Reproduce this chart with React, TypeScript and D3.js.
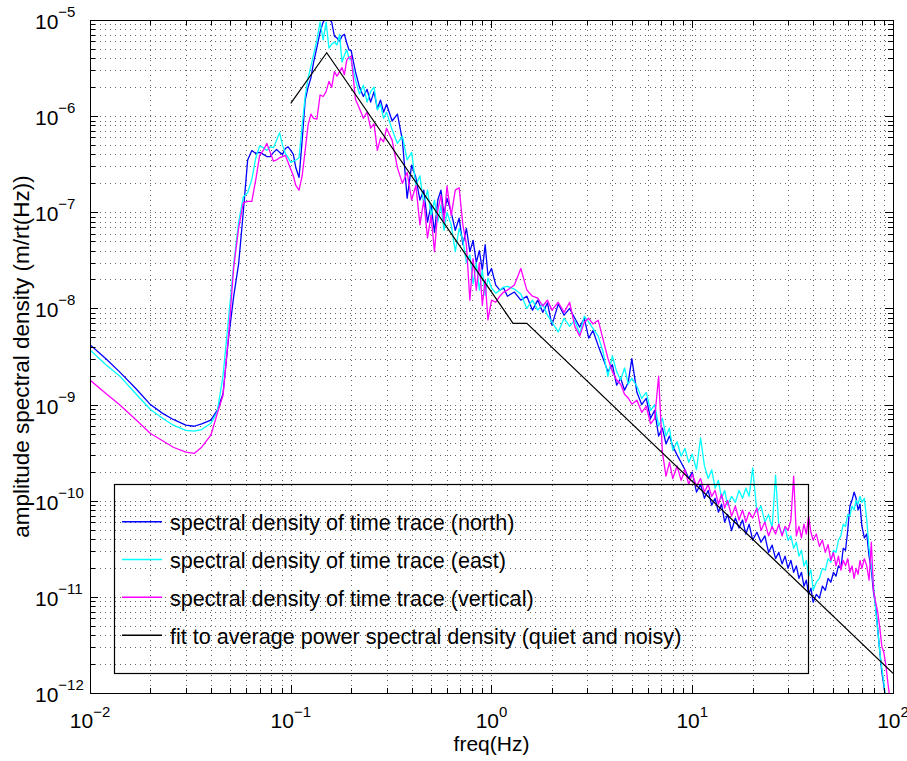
import React from 'react';
import * as d3 from 'd3';

// ---------- data ----------
const freqs = [
  0.01, 0.012, 0.014, 0.017, 0.02, 0.023, 0.026, 0.03, 0.033, 0.036, 0.04, 0.043,
  0.046, 0.049, 0.052, 0.055, 0.058, 0.061, 0.064, 0.067, 0.07, 0.073, 0.076, 0.079, 0.082, 0.085, 0.088, 0.091, 0.094, 0.097, 0.1,
  0.103, 0.106, 0.11, 0.114, 0.118, 0.122, 0.126, 0.13, 0.135, 0.14, 0.145, 0.15, 0.155, 0.16, 0.165, 0.17, 0.175, 0.18, 0.185, 0.19, 0.195, 0.2,
  0.21, 0.22, 0.23, 0.24, 0.25, 0.26, 0.27, 0.28, 0.29, 0.3, 0.32, 0.34, 0.36, 0.38, 0.4, 0.42, 0.44, 0.46, 0.48, 0.5,
  0.52, 0.54, 0.56, 0.58, 0.6, 0.63, 0.66, 0.69, 0.72, 0.75, 0.78, 0.81, 0.84, 0.87, 0.9, 0.93, 0.96, 1.0,
  1.05, 1.1, 1.15, 1.2, 1.3, 1.4, 1.5, 1.6, 1.7, 1.8, 1.9, 2.0, 2.15, 2.3, 2.45, 2.6, 2.75, 2.9, 3.05, 3.2, 3.4, 3.6, 3.8, 4.0, 4.2, 4.4, 4.6, 4.8, 5.0,
  5.3, 5.6, 5.9, 6.2, 6.5, 6.8, 7.1, 7.4, 7.7, 8.0, 8.4, 8.8, 9.2, 9.6, 10,
  10.5, 11, 11.5, 12, 12.5, 13, 13.5, 14, 14.5, 15, 15.7, 16.4, 17.1, 17.8, 18.5, 19.2, 20,
  21, 22, 23, 24, 25, 26, 27, 28, 29, 30, 31, 32, 33, 34, 35, 36, 37, 38, 39, 40,
  41.5, 43, 44.5, 46, 47.5, 49, 50.5, 52, 53.5, 55, 56.5, 58, 59.5, 61, 62.5, 64, 65.5, 67, 68.5, 70,
  72, 74, 76, 78, 80, 82, 84, 86, 88, 90, 92, 94, 96, 98, 100,
];

const north = [
  4.2e-9, 3.0e-9, 2.2e-9, 1.45e-9, 1.0e-9, 8.1e-10, 7.0e-10, 6.1e-10, 5.95e-10, 6.3e-10, 6.9e-10, 8.7e-10,
  1.3e-9, 4.9e-9, 1.35e-8, 2.9e-8, 1.0e-7, 3.5e-7, 4.4e-7, 4.1e-7, 4.2e-7, 4.0e-7, 3.8e-7, 3.8e-7, 4.2e-7, 4.5e-7, 4.2e-7, 4.0e-7, 4.6e-7, 4.8e-7, 4.4e-7,
  4.0e-7, 2.9e-7, 2.3e-7, 5.6e-7, 1.47e-6, 2.0e-6, 2.5e-6, 3.65e-6, 5.2e-6, 7.5e-6, 9.5e-6, 1.05e-5, 1.02e-5, 9.5e-6, 6.8e-6, 6.5e-6, 6.0e-6, 6.8e-6, 7.1e-6, 5.8e-6, 4.9e-6, 4.8e-6,
  2.9e-6, 2.0e-6, 1.6e-6, 1.9e-6, 1.4e-6, 1.8e-6, 1.2e-6, 1.47e-6, 1.1e-6, 1.33e-6, 8.9e-7, 1.05e-6, 5.6e-7, 1.4e-7, 3.1e-7, 2.3e-7, 1.34e-7, 1.7e-7, 7.9e-8, 1.19e-7,
  6.2e-8, 1.34e-7, 1.7e-7, 9.35e-8, 1.4e-7, 1.0e-7, 6.5e-8, 8.7e-8, 4.6e-8, 6.8e-8, 3.9e-8, 5.1e-8, 3.0e-8, 4.0e-8, 2.5e-8, 4.6e-8, 2.2e-8, 2.6e-8,
  1.75e-8, 1.55e-8, 1.63e-8, 1.34e-8, 1.48e-8, 1.22e-8, 1.34e-8, 9.6e-9, 1.22e-8, 9.1e-9, 1.14e-8, 6.7e-9, 1.11e-8, 8.5e-9, 1.0e-8, 7.9e-9, 6.4e-9, 7.9e-9, 4.9e-9, 5.9e-9, 4.1e-9, 3.0e-9, 2.2e-9, 2.6e-9, 1.59e-9, 1.88e-9, 1.41e-9, 1.71e-9, 3.0e-9,
  1.34e-9, 1.0e-9, 1.16e-9, 7.2e-10, 8.7e-10, 4.7e-10, 5.7e-10, 3.9e-10, 4.7e-10, 3.7e-10, 3.0e-10, 2.5e-10, 2.1e-10, 1.7e-10, 1.98e-10,
  1.23e-10, 1.48e-10, 1.06e-10, 1.28e-10, 9.0e-11, 1.06e-10, 7.6e-11, 9.2e-11, 6.0e-11, 7.2e-11, 4.9e-11, 6.6e-11, 5.2e-11, 6.3e-11, 4.5e-11, 5.7e-11, 3.9e-11,
  4.7e-11, 3.7e-11, 4.3e-11, 2.9e-11, 3.45e-11, 2.5e-11, 2.9e-11, 2.2e-11, 2.65e-11, 1.98e-11, 2.4e-11, 1.8e-11, 2.1e-11, 1.56e-11, 1.8e-11, 1.29e-11, 1.49e-11, 1.06e-11, 1.23e-11, 8.8e-12,
  1.06e-11, 9.7e-12, 1.29e-11, 1.17e-11, 1.56e-11, 1.42e-11, 1.8e-11, 1.64e-11, 2.1e-11, 1.98e-11, 3.2e-11, 3.05e-11, 4.9e-11, 8.8e-11, 1.01e-10, 1.23e-10, 1.06e-10, 8.0e-11, 9.2e-11, 5.4e-11,
  4.1e-11, 4.5e-11, 2.65e-11, 1.9e-11, 1.11e-11, 8.0e-12, 4.5e-12, 2.65e-12, 1.64e-12, 1.2e-12, 8.4e-13, 6.6e-13, 5.9e-13, 5.2e-13, 5.2e-13,
];

const east = [
  3.7e-9, 2.6e-9, 2.0e-9, 1.28e-9, 8.9e-10, 7.2e-10, 6.1e-10, 5.4e-10, 5.3e-10, 5.5e-10, 6.4e-10, 8.3e-10,
  2.0e-9, 7.9e-9, 2.9e-8, 7.9e-8, 1.44e-7, 1.6e-7, 2.2e-7, 3.7e-7, 4.9e-7, 4.7e-7, 4.4e-7, 4.8e-7, 4.7e-7, 5.6e-7, 6.7e-7, 5.0e-7, 4.1e-7, 3.7e-7, 3.3e-7,
  3.4e-7, 3.5e-7, 3.7e-7, 8.1e-7, 1.6e-6, 2.5e-6, 3.3e-6, 4.4e-6, 6.2e-6, 9.5e-6, 6.2e-6, 9.5e-6, 5.1e-6, 5.6e-6, 5.9e-6, 5.5e-6, 7.1e-6, 3.65e-6, 4.3e-6, 4.9e-6, 4.0e-6, 3.8e-6,
  2.4e-6, 1.7e-6, 2.1e-6, 1.4e-6, 1.8e-6, 2.0e-6, 1.16e-6, 1.33e-6, 9.5e-7, 1.1e-6, 7.2e-7, 5.2e-7, 6.2e-7, 3.5e-7, 4.2e-7, 1.9e-7, 2.4e-7, 1.19e-7, 1.7e-7, 9.3e-8,
  1.34e-7, 7.9e-8, 1.19e-7, 6.5e-8, 1.0e-7, 7.4e-8, 3.9e-8, 6.8e-8, 5.1e-8, 3.0e-8, 3.6e-8, 1.8e-8, 3.0e-8, 1.55e-8, 2.5e-8, 1.37e-8, 2.07e-8, 1.63e-8,
  1.44e-8, 1.55e-8, 1.67e-8, 1.7e-8, 1.59e-8, 1.41e-8, 1.0e-8, 1.22e-8, 9.6e-9, 1.11e-8, 8.5e-9, 7.2e-9, 5.7e-9, 7.9e-9, 6.5e-9, 7.55e-9, 5.4e-9, 8.3e-9, 7.2e-9, 6.2e-9, 5.15e-9, 3.5e-9, 1.97e-9, 3.2e-9, 2.2e-9, 1.8e-9, 2.4e-9, 1.63e-9, 1.88e-9,
  1.55e-9, 1.16e-9, 1.34e-9, 8.7e-10, 1.0e-9, 6.0e-10, 7.2e-10, 4.7e-10, 5.7e-10, 3.35e-10, 4.1e-10, 2.9e-10, 3.5e-10, 2.5e-10, 3.05e-10,
  2.1e-10, 4.5e-10, 2.3e-10, 1.7e-10, 2.1e-10, 1.35e-10, 1.63e-10, 1.06e-10, 1.28e-10, 9.0e-11, 1.11e-10, 9.6e-11, 1.28e-10, 1.06e-10, 1.35e-10, 1.11e-10, 2.2e-10,
  7.6e-11, 8.8e-11, 6.0e-11, 7.2e-11, 5.2e-11, 1.84e-10, 5.4e-11, 4.5e-11, 5.2e-11, 3.9e-11, 4.3e-11, 3.2e-11, 3.7e-11, 2.65e-11, 3.05e-11, 2.1e-11, 2.4e-11, 1.64e-11, 1.9e-11, 1.17e-11,
  1.42e-11, 1.56e-11, 1.98e-11, 1.9e-11, 2.5e-11, 2.3e-11, 3.05e-11, 2.9e-11, 3.9e-11, 4.3e-11, 5.7e-11, 5.4e-11, 7.2e-11, 6.9e-11, 8.8e-11, 8.0e-11, 1.01e-10, 9.2e-11, 1.11e-10, 9.6e-11,
  1.06e-10, 6.3e-11, 3.2e-11, 2.1e-11, 1.32e-11, 7.25e-12, 4.5e-12, 2.65e-12, 1.8e-12, 1.29e-12, 8.4e-13, 6.3e-13, 5.9e-13, 5.45e-13, 5.2e-13,
];

const vertical = [
  1.8e-9, 1.3e-9, 1.0e-9, 6.9e-10, 5.0e-10, 4.2e-10, 3.6e-10, 3.2e-10, 3.1e-10, 3.6e-10, 4.8e-10, 8.0e-10,
  1.25e-9, 5.3e-9, 2.7e-8, 6.8e-8, 1.25e-7, 1.3e-7, 1.3e-7, 2.2e-7, 3.9e-7, 4.4e-7, 5.2e-7, 4.2e-7, 3.4e-7, 3.5e-7, 3.7e-7, 3.8e-7, 3.9e-7, 3.3e-7, 2.8e-7,
  2.4e-7, 1.9e-7, 1.7e-7, 2.4e-7, 4.4e-7, 8.1e-7, 1.05e-6, 9.5e-7, 9.3e-7, 1.66e-6, 1.6e-6, 1.8e-6, 2.3e-6, 2.0e-6, 2.9e-6, 2.6e-6, 2.9e-6, 3.2e-6, 2.7e-6, 3.8e-6, 4.1e-6, 4.2e-6,
  1.5e-6, 1.2e-6, 9.5e-7, 1.1e-6, 7.5e-7, 8.3e-7, 4.4e-7, 5.9e-7, 5.4e-7, 7.5e-7, 5.6e-7, 2.9e-7, 2.0e-7, 2.6e-7, 1.34e-7, 1.9e-7, 7.4e-8, 1.34e-7, 5.4e-8, 9.3e-8,
  3.9e-8, 1.05e-7, 1.5e-7, 7.9e-8, 1.87e-7, 9.3e-8, 1.7e-7, 1.8e-7, 7.4e-8, 4.6e-8, 1.22e-8, 3.3e-8, 1.55e-8, 3.0e-8, 1.08e-8, 1.97e-8, 7.6e-9, 1.22e-8,
  1.16e-8, 1.34e-8, 1.48e-8, 1.55e-8, 1.75e-8, 2.6e-8, 1.55e-8, 1.34e-8, 1.28e-8, 1.06e-8, 1.22e-8, 9.6e-9, 1.16e-8, 9.1e-9, 1.16e-8, 6.5e-9, 5.15e-9, 7.2e-9, 7.9e-9, 6.9e-9, 7.55e-9, 4.7e-9, 3.04e-9, 2.2e-9, 1.8e-9, 1.63e-9, 1.28e-9, 1.17e-9, 1.01e-9,
  1.11e-9, 8.3e-10, 9.6e-10, 6.3e-10, 7.2e-10, 1.97e-9, 3.2e-10, 1.8e-10, 2.5e-10, 1.7e-10, 2.3e-10, 1.63e-10, 2.1e-10, 1.48e-10, 1.89e-10,
  1.42e-10, 1.7e-10, 1.23e-10, 1.48e-10, 1.11e-10, 1.28e-10, 9.2e-11, 1.17e-10, 8.4e-11, 1.01e-10, 6.9e-11, 8.8e-11, 6.3e-11, 8.0e-11, 6.0e-11, 7.6e-11, 6.6e-11,
  8.4e-11, 4.9e-11, 6.0e-11, 4.3e-11, 5.4e-11, 4.5e-11, 5.7e-11, 4.3e-11, 5.4e-11, 4.9e-11, 6.3e-11, 1.8e-10, 4.3e-11, 5.4e-11, 4.1e-11, 5.7e-11, 4.5e-11, 6.9e-11, 4.7e-11, 3.9e-11,
  4.5e-11, 3.35e-11, 3.9e-11, 2.9e-11, 3.5e-11, 2.4e-11, 2.9e-11, 2.1e-11, 2.65e-11, 1.9e-11, 2.4e-11, 2.1e-11, 2.5e-11, 1.8e-11, 2.1e-11, 1.56e-11, 1.98e-11, 1.72e-11, 2.4e-11, 1.98e-11,
  2.5e-11, 2.1e-11, 1.49e-11, 3.7e-11, 1.17e-11, 8.8e-12, 6.9e-12, 4.7e-12, 3.05e-12, 2.65e-12, 1.99e-12, 1.35e-12, 9.5e-13, 7.45e-13, 6.6e-13,
];

const fitFreqs = [0.1, 0.151, 1.28, 1.5, 100];
const fitValues = [1.36e-6, 4.57e-6, 7.0e-9, 7.0e-9, 1.6e-12];

const xTickExponents = [-2, -1, 0, 1, 2];
const yTickExponents = [-12, -11, -10, -9, -8, -7, -6, -5];
const minorMantissas = [2, 3, 4, 5, 6, 7, 8, 9];

const legendLabels = [
  'spectral density of time trace (north)',
  'spectral density of time trace (east)',
  'spectral density of time trace (vertical)',
  'fit to average power spectral density (quiet and noisy)',
];
const xLabel = 'freq(Hz)';
const yLabel = 'amplitude spectral density (m/rt(Hz))';

// ---------- layout / style ----------
const W = 907;
const H = 761;
const PL = 90, PT = 20, PR = 893, PB = 693;
const COLORS = ['#0000ff', '#00ffff', '#ff00ff', '#000000'];
const FONT = "'Liberation Sans', Arial, Helvetica, sans-serif";
const FS = 21;
const FS_EXP = 15;
const FS_LEG = 21.6;
const FS_YLAB = 22.5;

export default function App() {
  const x = d3.scaleLog().domain([0.01, 100]).range([PL, PR]);
  const y = d3.scaleLog().domain([1e-12, 1e-5]).range([PB, PT]);
  const line = d3
    .line<[number, number]>()
    .x((d) => x(d[0]))
    .y((d) => y(d[1]));

  const series = [north, east, vertical].map((vals) =>
    freqs.map((f, i) => [f, vals[i]] as [number, number])
  );
  const fit = fitFreqs.map((f, i) => [f, fitValues[i]] as [number, number]);

  const xMajor = xTickExponents.map((e) => Math.pow(10, e));
  const yMajor = yTickExponents.map((e) => Math.pow(10, e));
  const xMinor: number[] = [];
  for (let i = 0; i < xTickExponents.length - 1; i++)
    minorMantissas.forEach((m) => xMinor.push(m * Math.pow(10, xTickExponents[i])));
  const yMinor: number[] = [];
  for (let i = 0; i < yTickExponents.length - 1; i++)
    minorMantissas.forEach((m) => yMinor.push(m * Math.pow(10, yTickExponents[i])));

  const r = (v: number) => Math.round(v) + 0.5;
  const MAJ = 8;
  const MIN = 5;

  const gridX = [...xMajor, ...xMinor].filter((v) => x(v) > PL + 1 && x(v) < PR - 1);
  const gridY = [...yMajor, ...yMinor].filter((v) => y(v) > PT + 1 && y(v) < PB - 1);

  const legX0 = 114, legY0 = 484, legX1 = 808, legY1 = 673;
  const legRowY = [521.7, 559.5, 597.3, 635.2];

  return (
    <div style={{ position: 'absolute', left: 0, top: 0 }}>
      <svg width={W} height={H} style={{ display: 'block', background: '#fff' }} fontFamily={FONT}>
        <defs>
          <clipPath id="plotclip">
            <rect x={PL} y={PT} width={PR - PL} height={PB - PT} />
          </clipPath>
        </defs>
        <rect x={0} y={0} width={W} height={H} fill="#fff" />

        {/* grid */}
        <g stroke="#000" strokeWidth={1} strokeDasharray="1 4" shapeRendering="crispEdges" opacity={0.6}>
          {gridX.map((v, i) => (
            <line key={'gx' + i} x1={r(x(v))} x2={r(x(v))} y1={PT} y2={PB} />
          ))}
          {gridY.map((v, i) => (
            <line key={'gy' + i} x1={PL} x2={PR} y1={r(y(v))} y2={r(y(v))} />
          ))}
        </g>

        {/* data */}
        <g clipPath="url(#plotclip)" fill="none">
          {series.map((s, i) => (
            <path key={'s' + i} d={line(s) || ''} stroke={COLORS[i]} strokeWidth={1.3} strokeLinejoin="round" />
          ))}
          <path d={line(fit) || ''} stroke={COLORS[3]} strokeWidth={1.2} />
        </g>

        {/* legend */}
        <g>
          <rect x={legX0 + 0.5} y={legY0 + 0.5} width={legX1 - legX0} height={legY1 - legY0} fill="none" stroke="#000" strokeWidth={1.2} />
          {legendLabels.map((lab, i) => (
            <g key={'lg' + i}>
              <line x1={122} x2={162} y1={legRowY[i]} y2={legRowY[i]} stroke={COLORS[i]} strokeWidth={1.6} />
              <text x={170} y={legRowY[i] + 8.5} fontSize={FS_LEG} fill="#000">
                {lab}
              </text>
            </g>
          ))}
        </g>

        {/* axes box */}
        <rect x={PL + 0.5} y={PT + 0.5} width={PR - PL} height={PB - PT} fill="none" stroke="#000" strokeWidth={1.2} shapeRendering="crispEdges" />

        {/* ticks */}
        <g stroke="#000" strokeWidth={1} shapeRendering="crispEdges">
          {xMajor.map((v, i) => (
            <g key={'xM' + i}>
              <line x1={r(x(v))} x2={r(x(v))} y1={PB} y2={PB - MAJ} />
              <line x1={r(x(v))} x2={r(x(v))} y1={PT} y2={PT + MAJ} />
            </g>
          ))}
          {xMinor.map((v, i) => (
            <g key={'xm' + i}>
              <line x1={r(x(v))} x2={r(x(v))} y1={PB} y2={PB - MIN} />
              <line x1={r(x(v))} x2={r(x(v))} y1={PT} y2={PT + MIN} />
            </g>
          ))}
          {yMajor.map((v, i) => (
            <g key={'yM' + i}>
              <line x1={PL} x2={PL + MAJ} y1={r(y(v))} y2={r(y(v))} />
              <line x1={PR} x2={PR - MAJ} y1={r(y(v))} y2={r(y(v))} />
            </g>
          ))}
          {yMinor.map((v, i) => (
            <g key={'ym' + i}>
              <line x1={PL} x2={PL + MIN} y1={r(y(v))} y2={r(y(v))} />
              <line x1={PR} x2={PR - MIN} y1={r(y(v))} y2={r(y(v))} />
            </g>
          ))}
        </g>

        {/* tick labels */}
        <g fill="#000">
          {xTickExponents.map((e, i) => (
            <text key={'xl' + i} x={x(Math.pow(10, e))} y={728} textAnchor="middle" fontSize={FS}>
              <tspan>10</tspan>
              <tspan dy={-11} fontSize={FS_EXP}>{e < 0 ? '\u2212' + Math.abs(e) : String(e)}</tspan>
            </text>
          ))}
          {yTickExponents.map((e, i) => (
            <text key={'yl' + i} x={35} y={y(Math.pow(10, e)) + 9} textAnchor="start" fontSize={FS}>
              <tspan>10</tspan>
              <tspan dy={-12} fontSize={FS_EXP}>{'\u2212' + Math.abs(e)}</tspan>
            </text>
          ))}
        </g>

        {/* axis labels */}
        <text x={(PL + PR) / 2} y={751} textAnchor="middle" fontSize={FS} fill="#000">
          {xLabel}
        </text>
        <text
          transform={`translate(29, ${(PT + PB) / 2}) rotate(-90)`}
          textAnchor="middle"
          fontSize={FS_YLAB}
          fill="#000"
        >
          {yLabel}
        </text>
      </svg>
    </div>
  );
}
